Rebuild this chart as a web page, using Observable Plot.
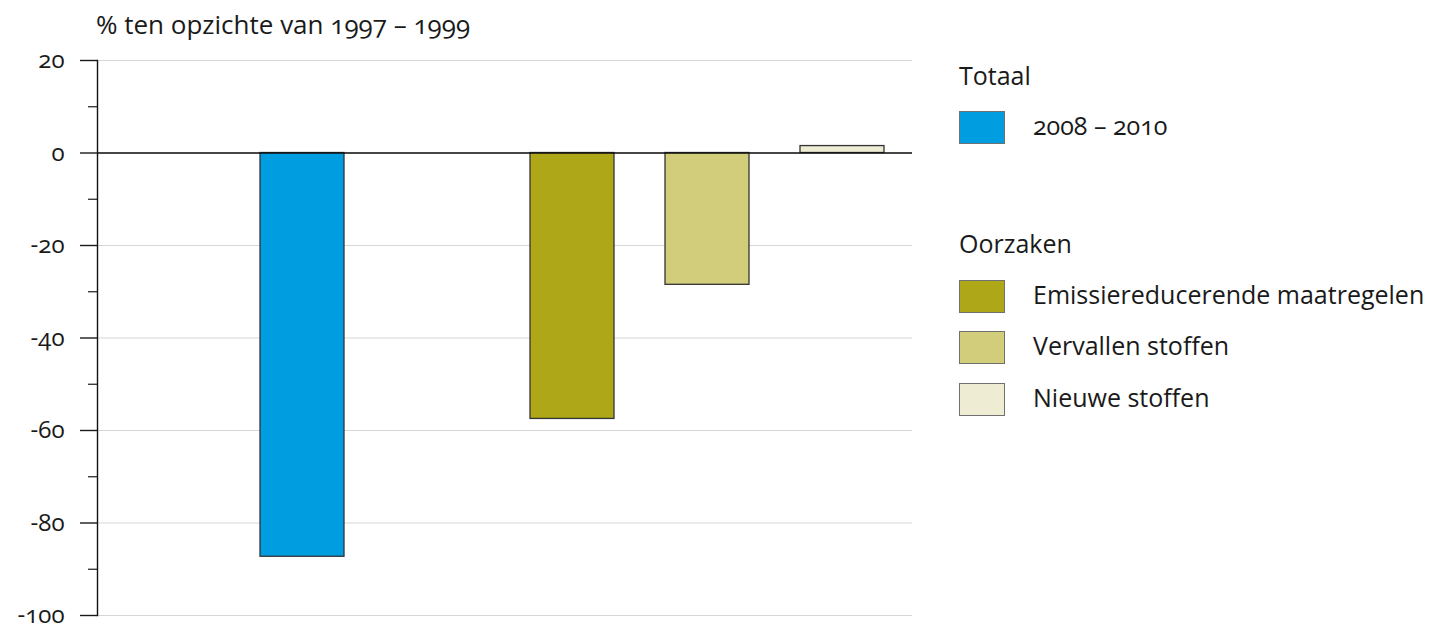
<!DOCTYPE html>
<html><head><meta charset="utf-8">
<script src="https://cdn.jsdelivr.net/npm/d3@7"></script>
<script src="https://cdn.jsdelivr.net/npm/@observablehq/plot@0.6"></script>
<style>
body{margin:0;background:#fff;font-family:"Open Sans",sans-serif;color:#1a1a1a;font-variant-numeric:oldstyle-nums;}
#wrap{position:relative;width:1436px;height:629px;overflow:hidden;}
#title{position:absolute;left:96px;top:11px;font-size:26px;line-height:1;white-space:nowrap;}
#chart{position:absolute;left:0;top:40px;}
#chart svg text{font-size:24px;font-variant-numeric:oldstyle-nums;}
.lg-h{position:absolute;left:959px;font-size:25px;line-height:1;white-space:nowrap;}
.lg-sw{position:absolute;left:959px;width:44px;height:31px;border:1.5px solid #707070;}
.lg-t{position:absolute;left:1033px;font-size:25px;line-height:1;white-space:nowrap;}
</style></head>
<body>
<div id="wrap">
  <div id="title">% ten opzichte van 1997 – 1999</div>
  <div id="chart"></div>
  <div id="legend"></div>
</div>
<script>
// slots on the x axis (blank slots are empty gaps in the chart)
const slots = ["gap1", "Totaal", "gap2", "Emissiereducerende maatregelen", "Vervallen stoffen", "Nieuwe stoffen"];
const categories = ["Totaal", "Emissiereducerende maatregelen", "Vervallen stoffen", "Nieuwe stoffen"];
const values = [-87.3, -57.5, -28.5, 1.5];
const colors = ["#009ee0", "#aea818", "#d2cd7b", "#eeecd3"];
const majorTicks = [20, 0, -20, -40, -60, -80, -100];
const minorTicks = [10, -10, -30, -50, -70, -90];
const legendGroups = ["Totaal", "Oorzaken"];
const legendLabels = ["2008 – 2010", "Emissiereducerende maatregelen", "Vervallen stoffen", "Nieuwe stoffen"];

const data = categories.map((c, i) => ({cat: c, value: values[i]}));

const plot = Plot.plot({
  width: 930, height: 589,
  marginTop: 20, marginBottom: 14, marginLeft: 97, marginRight: 18,
  style: {fontFamily: "'Open Sans', sans-serif", fontSize: "24px", color: "#1a1a1a", background: "#fff"},
  x: {domain: slots, paddingInner: 0.38, paddingOuter: 0.19, axis: null},
  y: {domain: [-100, 20], axis: null, label: null},
  color: {domain: categories, range: colors},
  marks: [
    Plot.gridY(majorTicks, {stroke: "#d6d6d6", strokeOpacity: 1, strokeWidth: 1}),
    Plot.barY(data, {x: "cat", y: "value", fill: "cat", stroke: "#333", strokeWidth: 1.3}),
    Plot.ruleY([0], {stroke: "#111", strokeWidth: 1.4}),
    Plot.frame({anchor: "left", stroke: "#111", strokeWidth: 1.4}),
    Plot.axisY(majorTicks, {tickSize: 17, tickPadding: 16, strokeWidth: 1.4, fontSize: 24, fontVariant: "oldstyle-nums", tickFormat: d => `${d}`, label: null}),
    Plot.axisY(minorTicks, {tickSize: 9, strokeWidth: 1.2, tickFormat: () => "", label: null})
  ]
});
document.getElementById("chart").appendChild(plot);

// legend
const lg = document.getElementById("legend");
const headerTops = [63, 231];
legendGroups.forEach((g, i) => {
  const h = document.createElement("div");
  h.className = "lg-h"; h.textContent = g; h.style.top = headerTops[i] + "px";
  lg.appendChild(h);
});
const swTops = [111, 280, 331, 383];
legendLabels.forEach((l, i) => {
  const s = document.createElement("div");
  s.className = "lg-sw"; s.style.top = swTops[i] + "px"; s.style.background = colors[i];
  lg.appendChild(s);
  const t = document.createElement("div");
  t.className = "lg-t"; t.textContent = l; t.style.top = (swTops[i] + 2) + "px";
  lg.appendChild(t);
});
</script>
</body></html>
